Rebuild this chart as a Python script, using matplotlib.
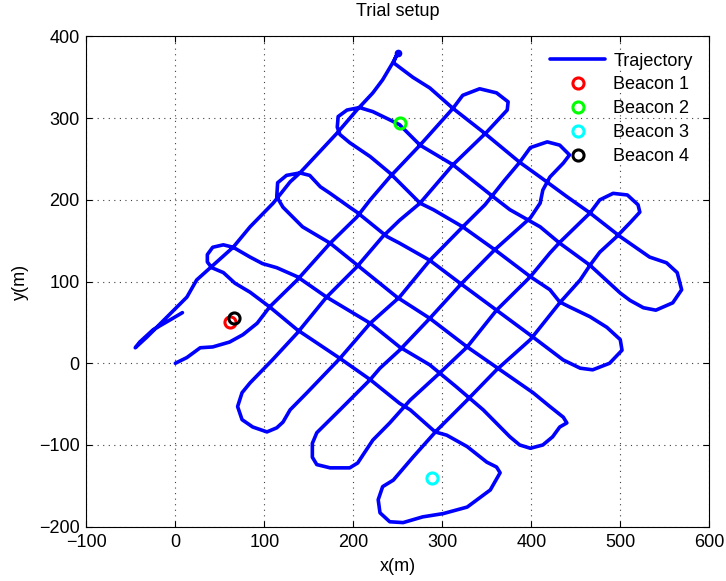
import matplotlib
matplotlib.use("Agg")
import matplotlib.pyplot as plt
import numpy as np

plt.rcParams['font.family'] = ['Liberation Sans', 'DejaVu Sans']

# trajectory (m), in travel order
traj_x = [0, 13, 28, 42, 61, 76, 92, 106, 137, 174, 204, 219, 241, 275, 312, 323, 342, 361, 374, 373,
          350, 312, 275, 252, 233, 204, 170, 137, 109, 84, 75, 70, 75, 87, 103, 114, 121, 129, 148, 170,
          185, 219, 252, 286, 323, 348, 370, 387, 399, 418, 432, 443, 436, 421, 413, 410, 399, 359, 322, 286,
          252, 230, 219, 185, 159, 154, 154, 159, 174, 196, 205, 211, 222, 241, 264, 297, 328, 361, 399, 421,
          432, 466, 477, 492, 508, 520, 522, 511, 496, 477, 466, 455, 432, 410, 399, 361, 328, 294, 267, 245,
          233, 228, 230, 241, 256, 278, 301, 328, 354, 365, 361, 350, 328, 305, 292, 264, 252, 219, 185, 137,
          106, 84, 67, 54, 41, 36, 36, 42, 54, 65, 84, 98, 114, 137, 170, 219, 252, 286, 316, 346,
          376, 387, 399, 413, 424, 432, 440, 436, 421, 402, 365, 328, 286, 249, 207, 174, 143, 121, 114, 115,
          125, 140, 151, 163, 174, 196, 204, 238, 252, 286, 320, 361, 402, 436, 455, 469, 488, 502, 500, 485,
          466, 443, 432, 421, 399, 359, 323, 290, 275, 241, 219, 196, 185, 182, 183, 193, 207, 222, 241, 252,
          275, 312, 357, 376, 410, 432, 466, 500, 511, 526, 540, 559, 569, 564, 552, 533, 500, 466, 440, 410,
          387, 346, 312, 286, 267, 245, 250, 245, 233, 222, 204, 182, 140, 129, 110, 84, 65, 24, 13, -9,
          -32, -45, -40, -25, -6, 8]
traj_y = [0, 7, 19, 20, 26, 35, 49, 69, 102, 147, 179, 200, 228, 267, 312, 328, 336, 331, 320, 310,
          283, 243, 196, 175, 155, 118, 81, 37, 4, -24, -36, -53, -69, -78, -84, -79, -72, -57, -36, -11,
          6, 49, 81, 126, 167, 194, 224, 246, 264, 271, 267, 255, 245, 228, 212, 196, 178, 139, 98, 55,
          16, -6, -20, -57, -85, -98, -115, -124, -128, -128, -122, -112, -94, -73, -45, -12, 20, 65, 106, 135,
          148, 184, 200, 208, 206, 194, 185, 172, 155, 136, 120, 102, 74, 44, 29, -8, -45, -82, -115, -143,
          -151, -167, -183, -194, -195, -188, -184, -176, -155, -134, -127, -121, -102, -88, -84, -57, -49, -20, 6, 41,
          69, 87, 98, 111, 117, 124, 133, 142, 145, 142, 130, 122, 117, 106, 81, 49, 20, -2, -29, -57,
          -90, -100, -104, -100, -90, -78, -73, -66, -53, -36, -8, 20, 55, 81, 118, 147, 167, 191, 204, 221,
          230, 233, 230, 216, 208, 191, 185, 155, 147, 126, 98, 65, 32, 4, -6, -8, 0, 16, 29, 44,
          57, 69, 75, 90, 106, 139, 167, 188, 196, 233, 253, 270, 280, 289, 302, 310, 313, 308, 298, 292,
          267, 243, 204, 188, 167, 147, 120, 86, 77, 68, 65, 74, 90, 111, 123, 130, 155, 184, 204, 228,
          246, 283, 312, 337, 350, 368, 380, 369, 347, 331, 310, 282, 233, 222, 196, 167, 142, 102, 81, 57,
          32, 19, 26, 41, 53, 62]

# beacon positions (m)
beacon_labels = ['Beacon 1', 'Beacon 2', 'Beacon 3', 'Beacon 4']
beacon_x = [61, 253, 288, 66]
beacon_y = [51, 294, -140, 55]
beacon_colors = ['#ff0000', '#00ff00', '#00ffff', '#000000']

fs = 13

fig = plt.figure(figsize=(7.26, 5.81), dpi=100)
ax = fig.add_axes([0.1189, 0.0935, 0.858, 0.8437])

ax.plot(traj_x, traj_y, color='#0000ff', lw=2.6, solid_capstyle='round',
        solid_joinstyle='round', label='Trajectory')
# end marker at the top of the trajectory
tip = int(np.argmax(traj_y))
ax.plot(traj_x[tip], traj_y[tip], 'o', color='#0000ff', ms=4.5)

for lab, bx, by, c in zip(beacon_labels, beacon_x, beacon_y, beacon_colors):
    ax.plot(bx, by, 'o', mfc='none', mec=c, ms=8, mew=2.2, label=lab)

ax.set_xlim(-100, 600)
ax.set_ylim(-200, 400)
ax.set_xticks(np.arange(-100, 601, 100))
ax.set_yticks(np.arange(-200, 401, 100))
ax.grid(True, linestyle=(0, (1, 4)), color='#404040', lw=0.8)
ax.tick_params(direction='in', top=True, right=True, labelsize=fs, length=4, pad=5)
ax.set_xlabel('x(m)', fontsize=fs, labelpad=5)
ax.set_ylabel('y(m)', fontsize=fs, labelpad=7)
ax.set_title('Trial setup', fontsize=fs, pad=15)

handles, labels = ax.get_legend_handles_labels()
ax.legend(handles, labels, loc='upper right', frameon=False, fontsize=fs,
          handlelength=3.05, handletextpad=0.45, labelspacing=0.38,
          bbox_to_anchor=(0.985, 0.982), borderaxespad=0)

fig.savefig('out.png', dpi=100)
